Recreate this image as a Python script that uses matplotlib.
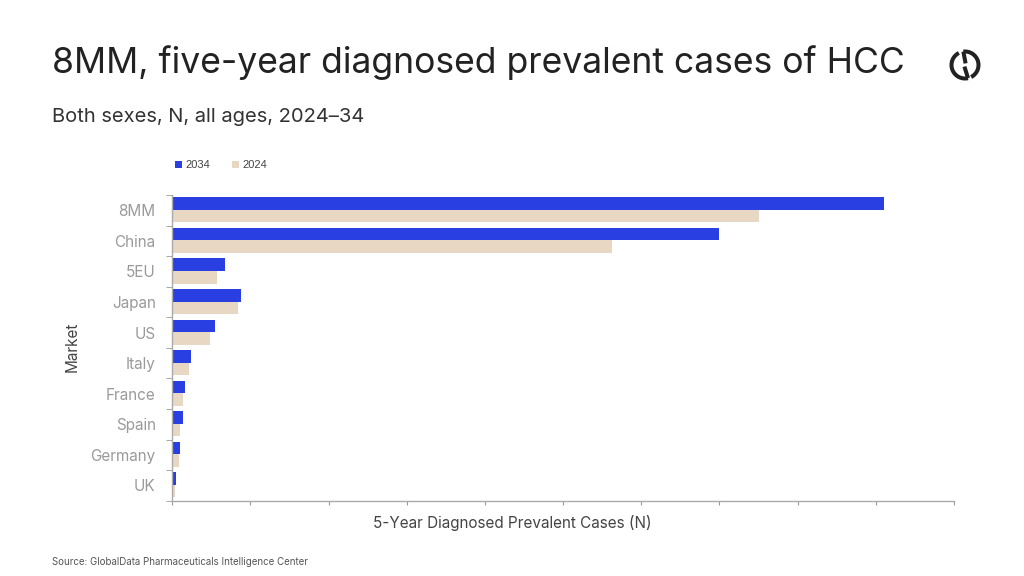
import matplotlib.pyplot as plt
import numpy as np
from matplotlib.patches import Arc

# ============================================================
# Data (x axis has no labels, ticks every 100k)
# ============================================================

markets = ["8MM", "China", "5EU", "Japan", "US", "Italy", "France", "Spain", "Germany", "UK"]
cases_2034 = [910000, 700000, 67000, 88000, 55000, 23500, 16000, 13300, 9900, 4700]
cases_2024 = [750000, 562000, 57500, 84000, 48000, 21400, 14100, 9900, 8600, 3500]
x_max = 1000000
x_step = 100000

BLUE = "#2A3FE2"
BEIGE = "#E8D7C2"
FONT = ["Inter", "DejaVu Sans"]

plt.rcParams["font.family"] = FONT

fig = plt.figure(figsize=(10.24, 5.76), dpi=100)

# ============================================================
# Header
# ============================================================

fig.text(52 / 1024, 1 - 73 / 576, "8MM, five-year diagnosed prevalent cases of HCC",
         fontsize=25.6, color="#222222", ha="left", va="baseline")
fig.text(52 / 1024, 1 - 122 / 576, "Both sexes, N, all ages, 2024\u201334",
         fontsize=14.5, color="#333333", ha="left", va="baseline")
fig.text(52 / 1024, 1 - 562 / 576, "Source: GlobalData Pharmaceuticals Intelligence Center",
         fontsize=7, color="#555555", ha="left", va="center")

# logo
logo = fig.add_axes([945 / 1024, 1 - 85 / 576, 40 / 1024, 40 / 576])
logo.set_xlim(-1, 1)
logo.set_ylim(-1, 1)
logo.set_aspect("equal")
logo.axis("off")
r = 0.675
lw = 2.9
logo.add_patch(Arc((0, 0), 2 * r, 2 * r, theta1=117, theta2=283, lw=lw, color="#222222"))
logo.add_patch(Arc((0, 0), 2 * r, 2 * r, theta1=297, theta2=97, lw=lw, color="#222222"))
logo.plot([r * np.cos(np.radians(97)), 0.03], [r * np.sin(np.radians(97)), 0.08],
          lw=lw, color="#222222", solid_capstyle="butt")
logo.plot([r * np.cos(np.radians(283)), -0.03], [r * np.sin(np.radians(283)), -0.08],
          lw=lw, color="#222222", solid_capstyle="butt")

# ============================================================
# Bars
# ============================================================

ax = fig.add_axes([172.3 / 1024, 75.3 / 576, 781.7 / 1024, 305.7 / 576])

y = np.arange(len(markets))
ax.barh(y - 0.22, cases_2034, height=0.41, color=BLUE, label="2034")
ax.barh(y + 0.19, cases_2024, height=0.41, color=BEIGE, label="2024")

ax.set_xlim(0, x_max)
ax.set_ylim(len(markets) - 0.5, -0.5)

ax.set_xticks(np.arange(0, x_max + 1, x_step))
ax.set_xticklabels([])
ax.tick_params(axis="x", length=3, color="#999999")

ax.set_yticks(y)
ax.set_yticklabels(markets)
ax.set_yticks(np.arange(-0.5, len(markets)), minor=True)
ax.tick_params(axis="y", which="major", length=0, pad=12, labelsize=11, labelcolor="#9a9a9a")
ax.tick_params(axis="y", which="minor", length=4, color="#999999")

for side in ["top", "right"]:
    ax.spines[side].set_visible(False)
for side in ["left", "bottom"]:
    ax.spines[side].set_color("#aaaaaa")
    ax.spines[side].set_linewidth(1)

fig.text(72 / 1024, 1 - 347 / 576, "Market", rotation=90, fontsize=11,
         color="#444444", ha="center", va="center")
fig.text(512 / 1024, 1 - 523 / 576, "5-Year Diagnosed Prevalent Cases (N)", fontsize=11,
         color="#444444", ha="center", va="center")

leg = fig.legend(loc="center left", bbox_to_anchor=(175 / 1024, 1 - 165 / 576), ncol=2,
                 frameon=False, handlelength=0.6, handleheight=0.6, handletextpad=0.3,
                 columnspacing=2.0, borderaxespad=0, borderpad=0,
                 prop={"family": ["Liberation Sans", "DejaVu Sans"], "size": 8})
for t in leg.get_texts():
    t.set_color("#444444")

fig.savefig("out.png", dpi=100)
